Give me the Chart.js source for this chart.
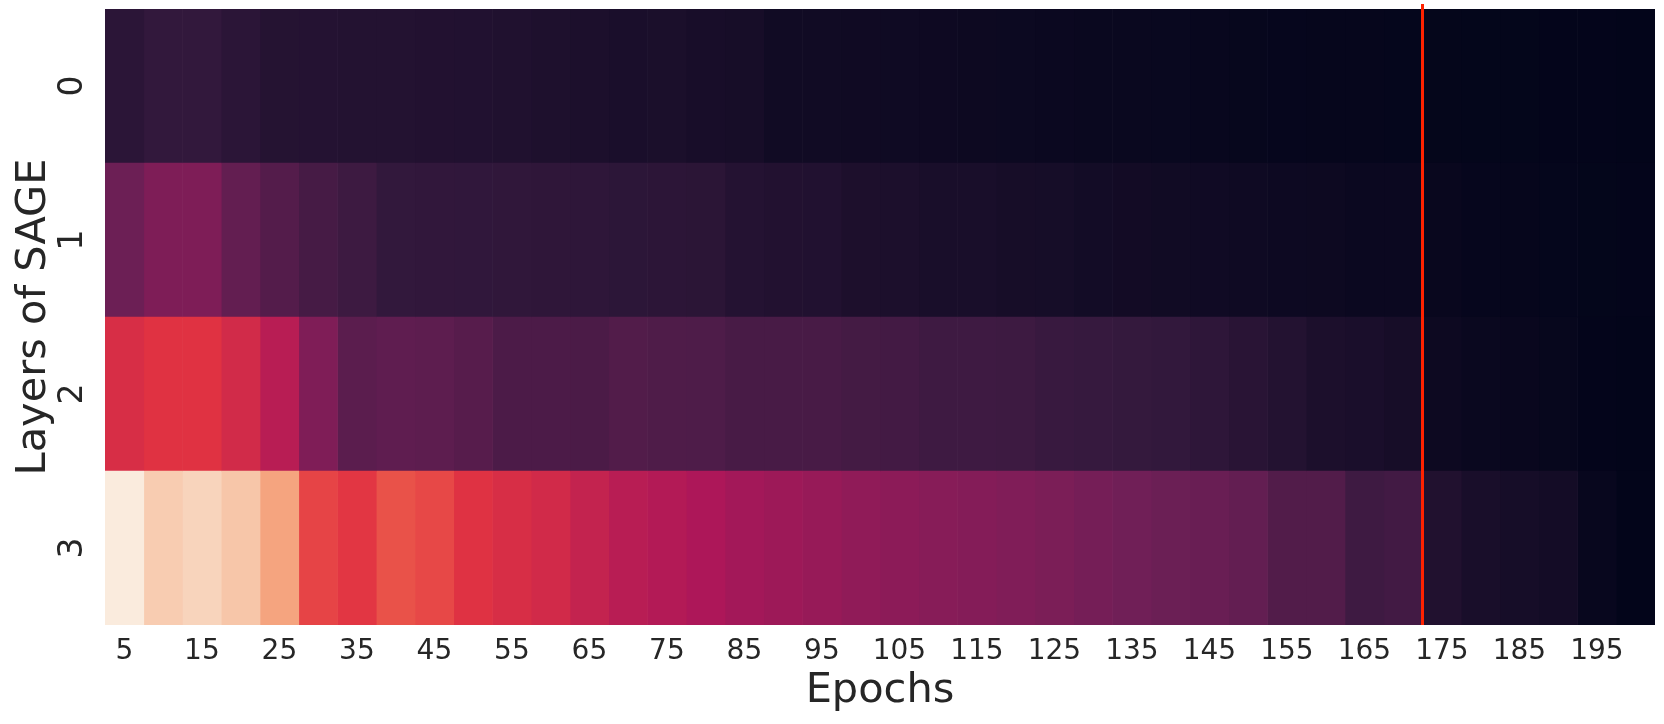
<!DOCTYPE html>
<html>
<head>
<meta charset="utf-8">
<script src="https://cdn.jsdelivr.net/npm/chart.js@4.4.0/dist/chart.umd.min.js"></script>
<style>
  html, body { margin: 0; padding: 0; background: #fff; }
</style>
</head>
<body>
<canvas id="chart" width="1664" height="724"></canvas>
<script>
// rows of the heatmap, top to bottom
const layers = ['0', '1', '2', '3'];

// one column per epoch
const epochs = [5, 10, 15, 20, 25, 30, 35, 40, 45, 50, 55, 60, 65, 70, 75, 80, 85, 90, 95, 100,
  105, 110, 115, 120, 125, 130, 135, 140, 145, 150, 155, 160, 165, 170, 175, 180, 185, 190, 195, 200];

// normalised cell values (0 = darkest, 1 = lightest)
const layer0 = [0.114, 0.134, 0.134, 0.114, 0.097, 0.094, 0.092, 0.092, 0.089, 0.086,
  0.083, 0.077, 0.072, 0.066, 0.068, 0.060, 0.057, 0.041, 0.040, 0.037,
  0.034, 0.031, 0.029, 0.026, 0.024, 0.021, 0.020, 0.018, 0.015, 0.012,
  0.010, 0.009, 0.008, 0.007, 0.005, 0.004, 0.004, 0.003, 0.002, 0.000];
const layer1 = [0.276, 0.319, 0.319, 0.254, 0.218, 0.184, 0.162, 0.134, 0.132, 0.130,
  0.128, 0.125, 0.122, 0.118, 0.116, 0.113, 0.095, 0.089, 0.087, 0.073,
  0.071, 0.064, 0.062, 0.057, 0.055, 0.047, 0.045, 0.040, 0.038, 0.035,
  0.030, 0.028, 0.024, 0.022, 0.016, 0.010, 0.009, 0.007, 0.004, 0.002];
const layer2 = [0.545, 0.568, 0.568, 0.528, 0.459, 0.320, 0.235, 0.245, 0.240, 0.225,
  0.199, 0.199, 0.197, 0.213, 0.205, 0.204, 0.189, 0.189, 0.188, 0.179,
  0.178, 0.165, 0.165, 0.163, 0.150, 0.145, 0.140, 0.135, 0.123, 0.109,
  0.092, 0.072, 0.066, 0.057, 0.029, 0.020, 0.017, 0.011, 0.003, 0.000];
const layer3 = [1.000, 0.920, 0.940, 0.904, 0.820, 0.607, 0.578, 0.637, 0.616, 0.565,
  0.545, 0.526, 0.490, 0.460, 0.445, 0.430, 0.406, 0.391, 0.377, 0.361,
  0.352, 0.340, 0.333, 0.323, 0.312, 0.298, 0.285, 0.275, 0.270, 0.255,
  0.213, 0.213, 0.165, 0.175, 0.085, 0.063, 0.055, 0.048, 0.015, 0.000];

// x tick labels (every other epoch)
const tickLabels = ['5', '15', '25', '35', '45', '55', '65', '75', '85', '95',
  '105', '115', '125', '135', '145', '155', '165', '175', '185', '195'];

// red marker sits on the left edge of this epoch's column
const markerEpoch = 175;

// seaborn "rocket" colormap
const rocketStops = [
  [0.000, [3, 5, 26]],
  [0.143, [53, 25, 62]],
  [0.286, [112, 31, 87]],
  [0.429, [173, 23, 89]],
  [0.571, [225, 51, 66]],
  [0.714, [243, 118, 81]],
  [0.857, [246, 180, 143]],
  [1.000, [250, 235, 221]]
];
function rocket(v) {
  v = Math.max(0, Math.min(1, v));
  for (let i = 1; i < rocketStops.length; i++) {
    const [t1, c1] = rocketStops[i];
    const [t0, c0] = rocketStops[i - 1];
    if (v <= t1) {
      const f = (v - t0) / (t1 - t0);
      const c = c0.map((a, k) => Math.round(a + (c1[k] - a) * f));
      return `rgb(${c[0]},${c[1]},${c[2]})`;
    }
  }
  return 'rgb(250,235,221)';
}

const rows = [layer0, layer1, layer2, layer3];

// each epoch is one stacked segment of width 1 in every row
const datasets = epochs.map((ep, c) => ({
  label: String(ep),
  data: layers.map(() => 1),
  backgroundColor: rows.map(r => rocket(r[c])),
  borderWidth: 0,
  barPercentage: 1,
  categoryPercentage: 1
}));

const tickIdx = tickLabels.map(t => epochs.indexOf(Number(t)));

const textColor = '#262626';
const font = 'DejaVu Sans';

const markerLine = {
  id: 'markerLine',
  afterDatasetsDraw(chart) {
    const { ctx, chartArea, scales } = chart;
    const x = scales.x.getPixelForValue(epochs.indexOf(markerEpoch));
    ctx.save();
    ctx.strokeStyle = '#ff2200';
    ctx.lineWidth = 3;
    ctx.beginPath();
    ctx.moveTo(x, chartArea.top - 5);
    ctx.lineTo(x, chartArea.bottom);
    ctx.stroke();
    ctx.restore();
  }
};

new Chart(document.getElementById('chart'), {
  type: 'bar',
  data: { labels: layers, datasets: datasets },
  plugins: [markerLine],
  options: {
    indexAxis: 'y',
    responsive: false,
    animation: false,
    layout: { padding: { left: 0, right: 9, top: 9, bottom: 0 } },
    plugins: { legend: { display: false }, tooltip: { enabled: false } },
    scales: {
      x: {
        type: 'linear',
        stacked: true,
        min: 0,
        max: epochs.length,
        grid: { display: false, drawTicks: false },
        border: { display: false },
        afterBuildTicks: s => {
          s.ticks = tickIdx.map(i => ({ value: i + 0.5 }));
        },
        afterFit: s => { s.height = 99; s.paddingLeft = 0; s.paddingRight = 0; },
        ticks: {
          autoSkip: false, maxRotation: 0, minRotation: 0, padding: 10,
          color: textColor, font: { family: font, size: 28 },
          callback: (v, i) => tickLabels[i]
        },
        title: {
          display: true, text: 'Epochs', color: textColor,
          font: { family: font, size: 41.5 }, padding: { top: 0, bottom: 8 }
        }
      },
      y: {
        type: 'category',
        stacked: true,
        grid: { display: false, drawTicks: false },
        border: { display: false },
        afterFit: s => { s.width = 105; s.paddingTop = 0; s.paddingBottom = 0; },
        ticks: {
          minRotation: 90, maxRotation: 90, crossAlign: 'center', padding: 21,
          color: textColor, font: { family: font, size: 33 }
        },
        title: {
          display: true, text: 'Layers of SAGE', color: textColor,
          font: { family: font, size: 41.5 }, padding: { top: 9, bottom: 0 }
        }
      }
    }
  }
});
</script>
</body>
</html>
